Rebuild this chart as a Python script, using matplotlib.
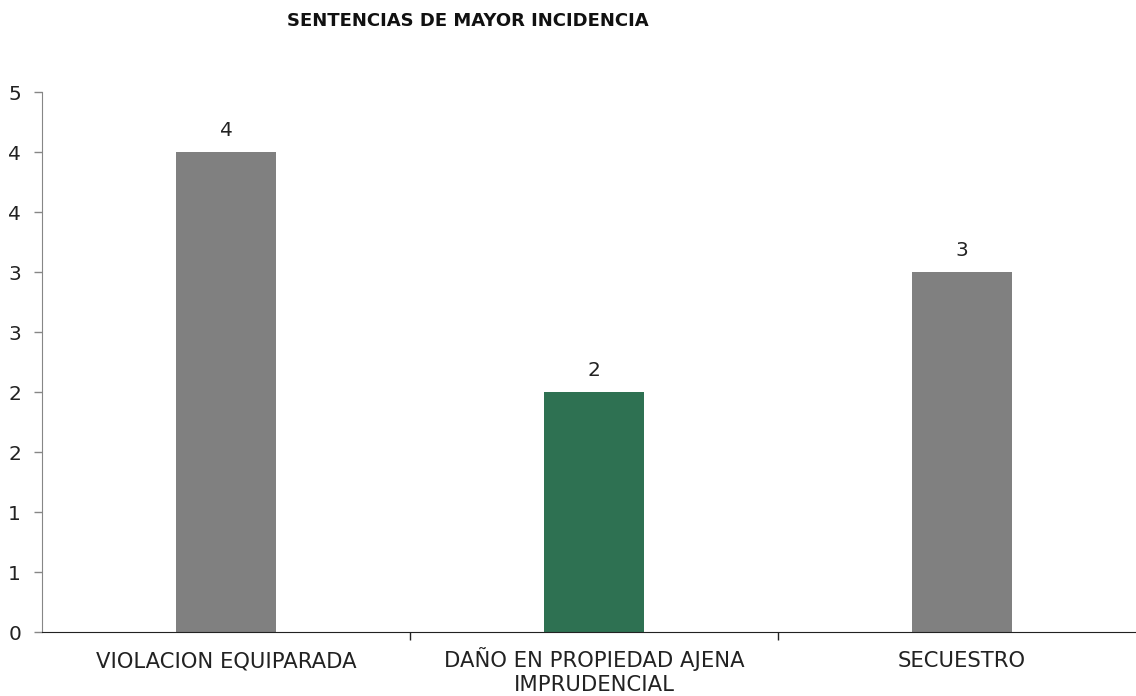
import matplotlib.pyplot as plt
import numpy as np

categorias = ["VIOLACION EQUIPARADA", "DAÑO EN PROPIEDAD AJENA\nIMPRUDENCIAL", "SECUESTRO"]
valores = [4, 2, 3]
colores = ["#808080", "#2E7152", "#808080"]
y_ticks = [0, 0.5, 1, 1.5, 2, 2.5, 3, 3.5, 4, 4.5]
y_labels = ["0", "1", "1", "2", "2", "3", "3", "4", "4", "5"]

plt.rcParams['font.family'] = ['DejaVu Sans']

fig = plt.figure(figsize=(11.36, 6.96), dpi=100)
ax = fig.add_axes([42/1136, 64/696, 1104/1136, 540/696])

x = np.arange(len(categorias))
bars = ax.bar(x, valores, width=0.27, color=colores)
for b, v in zip(bars, valores):
    ax.annotate(str(v), (b.get_x() + b.get_width()/2, v), xytext=(0, 16),
                textcoords='offset pixels', ha='center', va='baseline',
                fontsize=14.5, color='#222222')

ax.set_xlim(-0.5, 2.5)
ax.set_ylim(0, 4.5)
ax.set_yticks(y_ticks)
ax.set_yticklabels(y_labels, fontsize=14.5, color='#222222')
ax.set_xticks([0.5, 1.5])
ax.set_xticklabels([])
ax.tick_params(axis='x', length=6, color='#222222', width=1)
ax.tick_params(axis='y', length=6, color='#868686', width=1, pad=9)

# category labels, one line at a time so baselines line up
for i, c in enumerate(categorias):
    for j, linea in enumerate(c.split("\n")):
        ax.annotate(linea, (i, 0), xytext=(0, -35 - 24*j), textcoords='offset pixels',
                    ha='center', va='baseline', fontsize=15.2, color='#222222',
                    annotation_clip=False)

ax.spines['top'].set_visible(False)
ax.spines['right'].set_visible(False)
ax.spines['left'].set_color('#868686')
ax.spines['bottom'].set_color('#222222')

fig.text(468/1136, 1 - 21/696, "SENTENCIAS DE MAYOR INCIDENCIA", ha='center', va='center',
         fontsize=13, fontweight='bold', color='#111111')

fig.savefig("out.png", dpi=100)
